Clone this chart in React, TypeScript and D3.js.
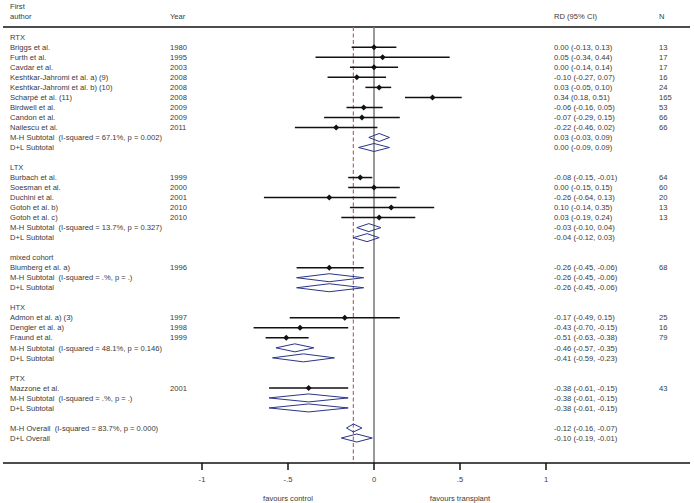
import React from "react";
import * as d3 from "d3";

const W = 694;
const H = 503;

// ---- Data ----
const groupNames = ["RTX", "LTX", "mixed cohort", "HTX", "PTX"];

const studyAuthors = [
  "Briggs et al.", "Furth et al.", "Cavdar et al.", "Keshtkar-Jahromi et al. a) (9)",
  "Keshtkar-Jahromi et al. b) (10)", "Scharpé et al. (11)", "Birdwell et al.", "Candon et al.", "Nailescu et al.",
  "Burbach et al.", "Soesman et al.", "Duchini et al.", "Gotoh et al. b)", "Gotoh et al. c)",
  "Blumberg et al. a)",
  "Admon et al. a) (3)", "Dengler et al. a)", "Fraund et al.",
  "Mazzone et al.",
];
const studyGroup = [0, 0, 0, 0, 0, 0, 0, 0, 0, 1, 1, 1, 1, 1, 2, 3, 3, 3, 4];
const studyYears = ["1980", "1995", "2003", "2008", "2008", "2008", "2009", "2009", "2011", "1999", "2000", "2001", "2010", "2010", "1996", "1997", "1998", "1999", "2001"];
const studyRD = [0.0, 0.05, 0.0, -0.1, 0.03, 0.34, -0.06, -0.07, -0.22, -0.08, 0.0, -0.26, 0.1, 0.03, -0.26, -0.17, -0.43, -0.51, -0.38];
const studyLo = [-0.13, -0.34, -0.14, -0.27, -0.05, 0.18, -0.16, -0.29, -0.46, -0.15, -0.15, -0.64, -0.14, -0.19, -0.45, -0.49, -0.7, -0.63, -0.61];
const studyHi = [0.13, 0.44, 0.14, 0.07, 0.1, 0.51, 0.05, 0.15, 0.02, -0.01, 0.15, 0.13, 0.35, 0.24, -0.06, 0.15, -0.15, -0.38, -0.15];
const studyN = [13, 17, 17, 16, 24, 165, 53, 66, 66, 64, 60, 20, 13, 13, 68, 25, 16, 79, 43];

const mhHetero = ["67.1%, p = 0.002", "13.7%, p = 0.327", ".%, p = .", "48.1%, p = 0.146", ".%, p = ."];
const mhRD = [0.03, -0.03, -0.26, -0.46, -0.38];
const mhLo = [-0.03, -0.1, -0.45, -0.57, -0.61];
const mhHi = [0.09, 0.04, -0.06, -0.35, -0.15];
const dlRD = [0.0, -0.04, -0.26, -0.41, -0.38];
const dlLo = [-0.09, -0.12, -0.45, -0.59, -0.61];
const dlHi = [0.09, 0.03, -0.06, -0.23, -0.15];

const overallHetero = "83.7%, p = 0.000";
const overallMH = [-0.12, -0.16, -0.07];
const overallDL = [-0.1, -0.19, -0.01];

const tickValues = [-1, -0.5, 0, 0.5, 1];
const tickLabels = ["-1", "-.5", "0", ".5", "1"];

// ---- Layout ----
type Row =
  | { kind: "group"; label: string }
  | { kind: "study"; i: number }
  | { kind: "mh"; g: number }
  | { kind: "dl"; g: number }
  | { kind: "blank" }
  | { kind: "omh" }
  | { kind: "odl" };

const rows: Row[] = [];
groupNames.forEach((name, g) => {
  rows.push({ kind: "group", label: name });
  studyGroup.forEach((sg, i) => {
    if (sg === g) rows.push({ kind: "study", i });
  });
  rows.push({ kind: "mh", g });
  rows.push({ kind: "dl", g });
  rows.push({ kind: "blank" });
});
rows.push({ kind: "omh" });
rows.push({ kind: "odl" });

const fmt = (v: number) => v.toFixed(2);
const ci = (e: number, l: number, h: number) => `${fmt(e)} (${fmt(l)}, ${fmt(h)})`;

export default function App() {
  const x = d3.scaleLinear().domain([-1, 1]).range([202, 546]);
  const y = d3.scaleLinear().domain([0, rows.length - 1]).range([37.3, 438]);

  const headerY = 27;
  const axisY = 463;
  const colAuthor = 10;
  const colYear = 170;
  const colRD = 554;
  const colN = 659;
  const fs = 7.6;
  const txt = "#3a3a3a";
  const navy = "#2b3488";

  const diamond = (e: number, l: number, h: number, yc: number, hh: number) =>
    `M${x(l)},${yc} L${x(e)},${yc - hh} L${x(h)},${yc} L${x(e)},${yc + hh} Z`;

  const els: React.ReactNode[] = [];
  rows.forEach((r, k) => {
    const yc = y(k);
    const ty = yc + fs * 0.35;
    if (r.kind === "group") {
      els.push(<text key={k} x={colAuthor} y={ty}>{r.label}</text>);
    } else if (r.kind === "study") {
      const i = r.i;
      els.push(
        <g key={k}>
          <text x={colAuthor} y={ty}>{studyAuthors[i]}</text>
          <text x={colYear} y={ty}>{studyYears[i]}</text>
          <text x={colRD} y={ty}>{ci(studyRD[i], studyLo[i], studyHi[i])}</text>
          <text x={colN} y={ty}>{studyN[i]}</text>
          <line x1={x(studyLo[i])} x2={x(studyHi[i])} y1={yc} y2={yc} stroke="#111" strokeWidth={1.5} />
          <path
            d={`M${x(studyRD[i]) - 3},${yc} L${x(studyRD[i])},${yc - 3} L${x(studyRD[i]) + 3},${yc} L${x(studyRD[i])},${yc + 3} Z`}
            fill="#111"
          />
        </g>
      );
    } else if (r.kind === "mh") {
      const g = r.g;
      els.push(
        <g key={k}>
          <text x={colAuthor} y={ty} style={{ whiteSpace: "pre" }}>{`M-H Subtotal  (I-squared = ${mhHetero[g]})`}</text>
          <text x={colRD} y={ty}>{ci(mhRD[g], mhLo[g], mhHi[g])}</text>
          <path d={diamond(mhRD[g], mhLo[g], mhHi[g], yc, 4)} fill="none" stroke={navy} strokeWidth={1} />
        </g>
      );
    } else if (r.kind === "dl") {
      const g = r.g;
      els.push(
        <g key={k}>
          <text x={colAuthor} y={ty}>D+L Subtotal</text>
          <text x={colRD} y={ty}>{ci(dlRD[g], dlLo[g], dlHi[g])}</text>
          <path d={diamond(dlRD[g], dlLo[g], dlHi[g], yc, 4)} fill="none" stroke={navy} strokeWidth={1} />
        </g>
      );
    } else if (r.kind === "omh") {
      els.push(
        <g key={k}>
          <text x={colAuthor} y={ty} style={{ whiteSpace: "pre" }}>{`M-H Overall  (I-squared = ${overallHetero})`}</text>
          <text x={colRD} y={ty}>{ci(overallMH[0], overallMH[1], overallMH[2])}</text>
          <path d={diamond(overallMH[0], overallMH[1], overallMH[2], yc, 4)} fill="none" stroke={navy} strokeWidth={1} />
        </g>
      );
    } else if (r.kind === "odl") {
      els.push(
        <g key={k}>
          <text x={colAuthor} y={ty}>D+L Overall</text>
          <text x={colRD} y={ty}>{ci(overallDL[0], overallDL[1], overallDL[2])}</text>
          <path d={diamond(overallDL[0], overallDL[1], overallDL[2], yc, 4)} fill="none" stroke={navy} strokeWidth={1} />
        </g>
      );
    }
  });

  return (
    <svg
      width={W}
      height={H}
      style={{ position: "absolute", left: 0, top: 0, background: "#fff" }}
      fontFamily="'Liberation Sans', Arial, sans-serif"
      fontSize={fs}
      fill={txt}
    >
      {/* header */}
      <text x={colAuthor} y={8.5}>First</text>
      <text x={colAuthor} y={18.5}>author</text>
      <text x={colYear} y={18.5}>Year</text>
      <text x={colRD} y={18.5}>RD (95% CI)</text>
      <text x={colN} y={18.5}>N</text>
      <line x1={3} x2={690} y1={headerY} y2={headerY} stroke="#111" strokeWidth={1.5} />

      {/* reference lines */}
      <line x1={x(0)} x2={x(0)} y1={headerY} y2={axisY} stroke="#777" strokeWidth={1.5} />
      <line
        x1={x(overallMH[0])}
        x2={x(overallMH[0])}
        y1={headerY}
        y2={axisY}
        stroke="#b5676f"
        strokeWidth={1.2}
        strokeDasharray="4,2.5"
      />

      {els}

      {/* axis */}
      <line x1={3} x2={690} y1={axisY} y2={axisY} stroke="#111" strokeWidth={1.5} />
      {tickValues.map((t, i) => (
        <g key={i}>
          <line x1={x(t)} x2={x(t)} y1={axisY} y2={axisY + 7} stroke="#111" strokeWidth={1.5} />
          <text x={x(t)} y={axisY + 19} textAnchor="middle">{tickLabels[i]}</text>
        </g>
      ))}
      <text x={x(-0.5)} y={axisY + 38} textAnchor="middle">favours control</text>
      <text x={x(0.5)} y={axisY + 38} textAnchor="middle">favours transplant</text>
    </svg>
  );
}
